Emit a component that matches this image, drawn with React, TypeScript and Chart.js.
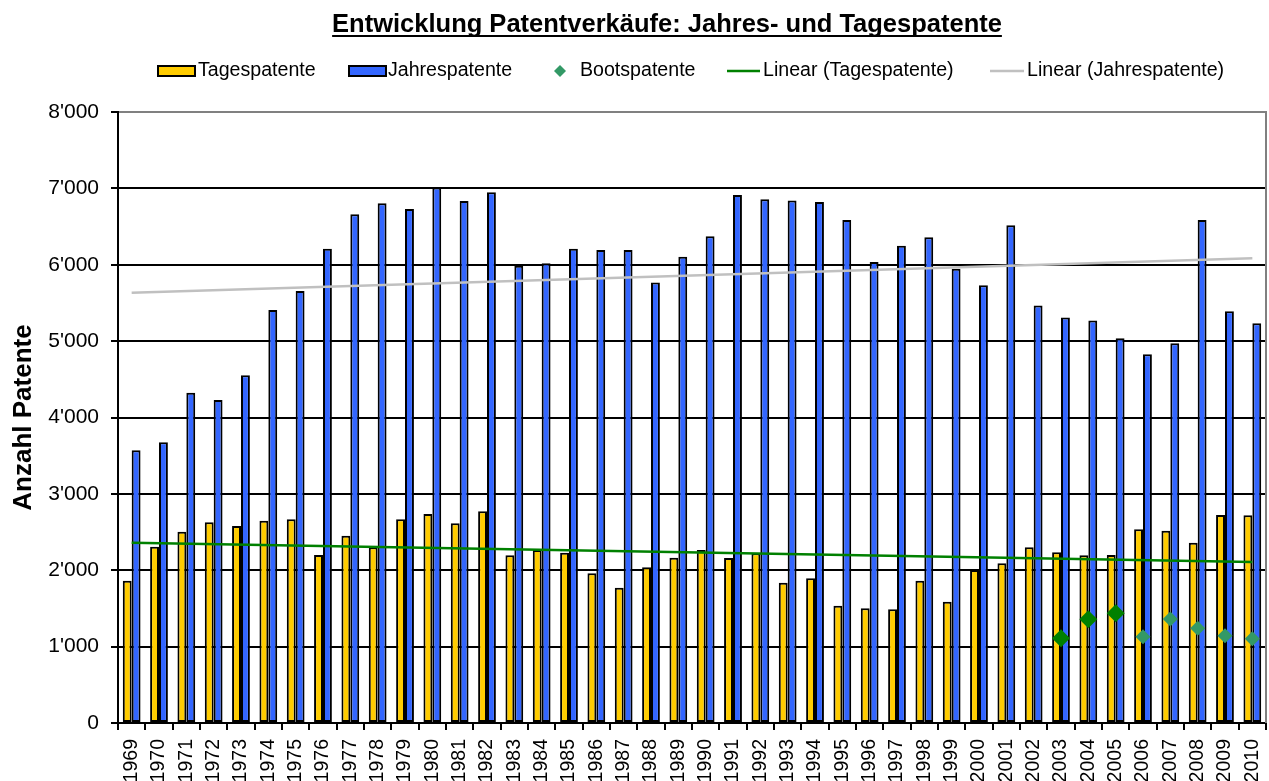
import React, { useEffect, useRef } from 'react';
import { Chart, registerables } from 'chart.js';

Chart.register(...registerables);

const FONT = "Arial, 'Liberation Sans', sans-serif";
const TITLE = 'Entwicklung Patentverkäufe: Jahres- und Tagespatente';

const years = [
  '1969', '1970', '1971', '1972', '1973', '1974', '1975', '1976', '1977', '1978',
  '1979', '1980', '1981', '1982', '1983', '1984', '1985', '1986', '1987', '1988',
  '1989', '1990', '1991', '1992', '1993', '1994', '1995', '1996', '1997', '1998',
  '1999', '2000', '2001', '2002', '2003', '2004', '2005', '2006', '2007', '2008',
  '2009', '2010',
];

const tagespatente = [
  1864, 2309, 2505, 2628, 2580, 2649, 2667, 2200, 2453, 2300,
  2667, 2737, 2615, 2772, 2196, 2265, 2230, 1960, 1772, 2039,
  2165, 2265, 2160, 2222, 1837, 1894, 1536, 1501, 1488, 1864,
  1588, 2003, 2091, 2300, 2235, 2196, 2200, 2536, 2518, 2361,
  2724, 2720,
];

const jahrespatente = [
  3570, 3675, 4325, 4230, 4553, 5408, 5657, 6211, 6661, 6805,
  6730, 7010, 6835, 6949, 5988, 6019, 6211, 6194, 6194, 5766,
  6106, 6373, 6914, 6857, 6840, 6822, 6586, 6036, 6250, 6360,
  5949, 5731, 6517, 5465, 5308, 5269, 5037, 4828, 4972, 6586,
  5391, 5234,
];

const bootsYears = ['2003', '2004', '2005', '2006', '2007', '2008', '2009', '2010'];
const bootspatente = [1109, 1358, 1436, 1130, 1362, 1240, 1143, 1104];
const bootsHighlightYears = ['2003', '2004', '2005'];

// Trend line endpoints (first year, last year)
const trendTagesEnds = [2361, 2108];
const trendJahresEnds = [5635, 6085];

const yTicks = [0, 1000, 2000, 3000, 4000, 5000, 6000, 7000, 8000];

const YELLOW = '#FFCC00';
const BLUE = '#3366FF';
const GREEN_DARK = '#008000';
const GREEN_LIGHT = '#339966';
const GRAY_TREND = '#C0C0C0';

const fmt = (v: number) => String(v).replace(/\B(?=(\d{3})+(?!\d))/g, "'");

const bootsData = years.map((y) => {
  const i = bootsYears.indexOf(y);
  return i >= 0 ? bootspatente[i] : null;
});

const endsToSeries = (ends: number[]) =>
  years.map((_, i) => (i === 0 ? ends[0] : i === years.length - 1 ? ends[1] : null));

const decorPlugin = {
  id: 'decor',
  afterDraw(chart: any) {
    const { ctx, chartArea } = chart;
    ctx.save();
    // right border of plot area
    ctx.strokeStyle = '#808080';
    ctx.lineWidth = 2;
    ctx.beginPath();
    ctx.moveTo(chartArea.right, chartArea.top - 1);
    ctx.lineTo(chartArea.right, chartArea.bottom);
    ctx.stroke();

    // title
    ctx.fillStyle = '#000';
    ctx.font = `bold 25.5px ${FONT}`;
    ctx.textAlign = 'center';
    ctx.textBaseline = 'alphabetic';
    const cx = 667;
    ctx.fillText(TITLE, cx, 32);
    const w = ctx.measureText(TITLE).width;
    ctx.fillRect(cx - w / 2, 35, w, 2);

    // legend
    const ly = 71;
    ctx.font = `19.6px ${FONT}`;
    ctx.textAlign = 'left';
    ctx.textBaseline = 'middle';

    ctx.fillStyle = YELLOW;
    ctx.fillRect(158, 66, 37, 10);
    ctx.strokeStyle = '#000';
    ctx.lineWidth = 2;
    ctx.strokeRect(158, 66, 37, 10);
    ctx.fillStyle = '#000';
    ctx.fillText('Tagespatente', 198, ly);

    ctx.fillStyle = BLUE;
    ctx.fillRect(349, 66, 37, 10);
    ctx.strokeRect(349, 66, 37, 10);
    ctx.fillStyle = '#000';
    ctx.fillText('Jahrespatente', 388, ly);

    ctx.fillStyle = GREEN_LIGHT;
    ctx.beginPath();
    ctx.moveTo(560, ly - 6);
    ctx.lineTo(566, ly);
    ctx.lineTo(560, ly + 6);
    ctx.lineTo(554, ly);
    ctx.closePath();
    ctx.fill();
    ctx.fillStyle = '#000';
    ctx.fillText('Bootspatente', 580, ly);

    ctx.strokeStyle = GREEN_DARK;
    ctx.lineWidth = 2.5;
    ctx.beginPath();
    ctx.moveTo(727, ly);
    ctx.lineTo(760, ly);
    ctx.stroke();
    ctx.fillText('Linear (Tagespatente)', 763, ly);

    ctx.strokeStyle = GRAY_TREND;
    ctx.beginPath();
    ctx.moveTo(990, ly);
    ctx.lineTo(1024, ly);
    ctx.stroke();
    ctx.fillText('Linear (Jahrespatente)', 1027, ly);

    ctx.restore();
  },
};

export default function App() {
  const ref = useRef<HTMLCanvasElement | null>(null);

  useEffect(() => {
    if (!ref.current) return;
    const chart = new Chart(ref.current, {
      type: 'bar',
      data: {
        labels: years,
        datasets: [
          {
            type: 'line',
            label: 'Bootspatente',
            data: bootsData,
            showLine: false,
            pointStyle: 'rectRot',
            pointRadius: (c: any) => (bootsHighlightYears.includes(years[c.dataIndex]) ? 9 : 7.5),
            pointBackgroundColor: (c: any) =>
              bootsHighlightYears.includes(years[c.dataIndex]) ? GREEN_DARK : GREEN_LIGHT,
            pointBorderWidth: 0,
            order: 0,
          } as any,
          {
            type: 'line',
            label: 'Linear (Tagespatente)',
            data: endsToSeries(trendTagesEnds),
            borderColor: GREEN_DARK,
            borderWidth: 2.5,
            pointRadius: 0,
            spanGaps: true,
            order: 1,
          } as any,
          {
            type: 'line',
            label: 'Linear (Jahrespatente)',
            data: endsToSeries(trendJahresEnds),
            borderColor: GRAY_TREND,
            borderWidth: 2.5,
            pointRadius: 0,
            spanGaps: true,
            order: 1,
          } as any,
          {
            type: 'bar',
            label: 'Tagespatente',
            data: tagespatente,
            backgroundColor: YELLOW,
            borderColor: '#000',
            borderWidth: 2,
            borderSkipped: false,
            barPercentage: 1,
            categoryPercentage: 0.65,
            order: 2,
          } as any,
          {
            type: 'bar',
            label: 'Jahrespatente',
            data: jahrespatente,
            backgroundColor: BLUE,
            borderColor: '#000',
            borderWidth: 2,
            borderSkipped: false,
            barPercentage: 1,
            categoryPercentage: 0.65,
            order: 2,
          } as any,
        ],
      },
      options: {
        responsive: false,
        animation: false,
        layout: { autoPadding: false, padding: { top: 112, right: 3, left: 0, bottom: 0 } },
        plugins: {
          legend: { display: false },
          title: { display: false },
          tooltip: { enabled: false },
        },
        scales: {
          x: {
            afterFit: (s: any) => {
              s.height = 58;
              s.paddingLeft = 0;
              s.paddingRight = 0;
            },
            ticks: {
              autoSkip: false,
              maxRotation: 90,
              minRotation: 90,
              padding: 9,
              color: '#000',
              font: { family: FONT, size: 19.5 },
            },
            grid: {
              drawOnChartArea: false,
              drawTicks: true,
              tickLength: 7,
              color: '#000',
              lineWidth: 2,
              offset: true,
            },
            border: { display: true, color: '#000', width: 2 },
          },
          y: {
            min: 0,
            max: 8000,
            afterFit: (s: any) => {
              s.width = 118;
              s.paddingTop = 0;
              s.paddingBottom = 0;
            },
            afterBuildTicks: (s: any) => {
              s.ticks = yTicks.map((v) => ({ value: v }));
            },
            ticks: {
              padding: 12,
              color: '#000',
              font: { family: FONT, size: 21 },
              callback: (v: any) => fmt(Number(v)),
            },
            grid: {
              color: (c: any) => (c.tick && c.tick.value === 8000 ? '#808080' : '#000'),
              tickColor: '#000',
              lineWidth: 2,
              tickLength: 7,
            },
            border: { display: true, color: '#000', width: 2 },
            title: {
              display: true,
              text: 'Anzahl Patente',
              color: '#000',
              font: { family: FONT, size: 26, weight: 'bold' },
              padding: { top: 8, bottom: 0 },
            },
          },
        },
      },
      plugins: [decorPlugin],
    } as any);
    return () => chart.destroy();
  }, []);

  return (
    <div
      style={{
        position: 'absolute',
        left: 0,
        top: 0,
        width: 1269,
        height: 781,
        overflow: 'hidden',
        background: '#fff',
      }}
    >
      <canvas ref={ref} width={1269} height={781} style={{ display: 'block' }} />
    </div>
  );
}
